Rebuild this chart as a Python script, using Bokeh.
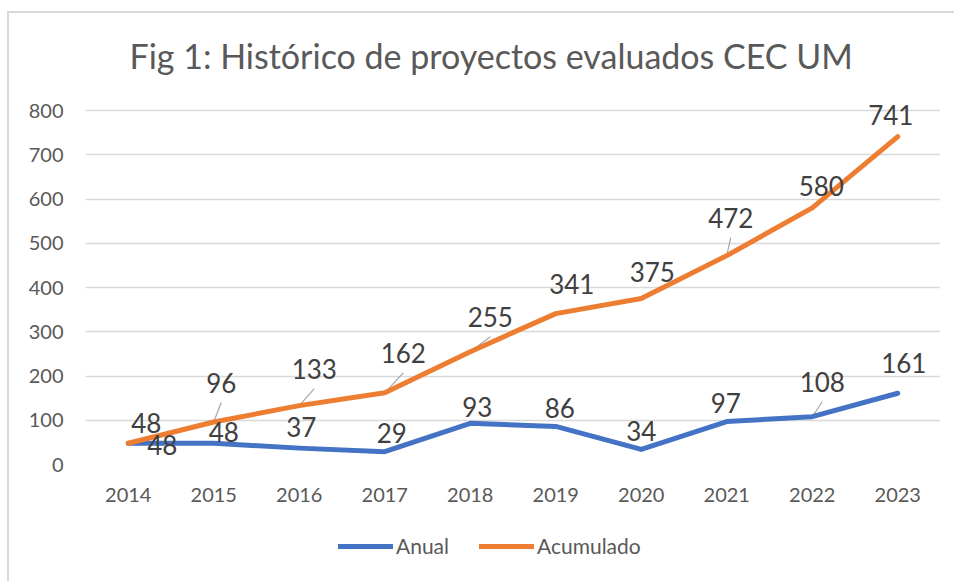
from bokeh.plotting import figure
from bokeh.layouts import column
from bokeh.models import (ColumnDataSource, Range1d, FixedTicker, LabelSet,
                          Legend, LegendItem)
from bokeh.core.properties import value
from bokeh.embed import file_html
from bokeh.resources import INLINE

# ---- data ----
years = ["2014", "2015", "2016", "2017", "2018", "2019", "2020", "2021", "2022", "2023"]
anual = [48, 48, 37, 29, 93, 86, 34, 97, 108, 161]
acumulado = [48, 96, 133, 162, 255, 341, 375, 472, 580, 741]
y_ticks = [0, 100, 200, 300, 400, 500, 600, 700, 800]
series_names = ["Anual", "Acumulado"]
title_text = "Fig 1: Histórico de proyectos evaluados CEC UM"

# ---- label placement (screen px offsets from point, y up) ----
anual_dx = [34, 10, 2, 7, 7, 4, 0, -1, 10, 6]
anual_dy = [-2, 11, 21, 19, 16, 18, 18, 19, 35, 30]
anual_leader = [0, 0, 0, 0, 0, 0, 0, 0, 1, 0]
acum_dx = [18, 7.5, 15, 18.5, 20, 16, 11, 4, 9, -7]
acum_dy = [20, 39.5, 37, 40, 35, 30, 27, 38, 22, 22]
acum_leader = [0, 1, 1, 1, 1, 0, 0, 1, 0, 0]

# page geometry
OX, OY = 9, 13                       # inner origin of the chart box (border by CSS)
W = 954 - OX
H_MAIN = 531 - OY
H_LEG = 581 - 531
FL, FR, FT0, FB = 85 - OX, 940 - OX, 110 - OY, 464 - OY   # frame for 0..800
FT = 80 - OY                                              # extended frame top
FW, FH = FR - FL, FB - FT0
px_x = FW / len(years)
px_y = FH / 800.0
ytop = 800 + (FT0 - FT) / px_y

BLUE = "#4472C4"
ORANGE = "#ED7D31"
FONT = "Lato"

xs = list(range(len(years)))
p = figure(width=W, height=H_MAIN, output_backend="svg", toolbar_location=None,
           x_range=Range1d(-0.5, len(years) - 0.5), y_range=Range1d(0, ytop),
           min_border_left=FL, min_border_right=W - FR, min_border_top=FT,
           min_border_bottom=H_MAIN - FB)
p.outline_line_color = None
p.background_fill_color = "white"
p.border_fill_color = "white"

p.title.text = title_text
p.title.align = "left"
p.title.offset = 44
p.title.text_font = FONT
p.title.text_font_size = "34px"
p.title.text_font_style = "normal"
p.title.text_color = "#595959"

# axes
p.xaxis.ticker = FixedTicker(ticks=xs)
p.xaxis.major_label_overrides = {i: y for i, y in enumerate(years)}
p.yaxis.ticker = FixedTicker(ticks=y_ticks)
for ax in (p.xaxis[0], p.yaxis[0]):
    ax.axis_line_color = None
    ax.major_tick_line_color = None
    ax.minor_tick_line_color = None
    ax.major_tick_in = 0
    ax.major_tick_out = 0
    ax.major_label_text_font = FONT
    ax.major_label_text_font_size = "20px"
    ax.major_label_text_color = "#595959"
p.yaxis.major_label_standoff = 22
p.xaxis.major_label_standoff = 23
p.xgrid.grid_line_color = None
p.ygrid.ticker = FixedTicker(ticks=y_ticks)
p.ygrid.grid_line_color = "#d9d9d9"
p.ygrid.grid_line_width = 1.5

def leaders(vals, dx, dy, flag):
    x0, y0, x1, y1 = [], [], [], []
    for i, (v, a, b, f) in enumerate(zip(vals, dx, dy, flag)):
        if f:
            x0.append(i)
            y0.append(v)
            x1.append(i + a / px_x)
            y1.append(v + (b - 20) / px_y)
    return dict(x0=x0, y0=y0, x1=x1, y1=y1)

for d in (leaders(anual, anual_dx, anual_dy, anual_leader),
          leaders(acumulado, acum_dx, acum_dy, acum_leader)):
    p.segment(x0="x0", y0="y0", x1="x1", y1="y1", source=ColumnDataSource(d),
              line_color="#a6a6a6", line_width=1.2)

p.line(xs, anual, line_color=BLUE, line_width=5, line_cap="round", line_join="round")
p.line(xs, acumulado, line_color=ORANGE, line_width=5, line_cap="round", line_join="round")

for vals, dx, dy in ((anual, anual_dx, anual_dy), (acumulado, acum_dx, acum_dy)):
    src = ColumnDataSource(dict(x=xs, y=vals, t=[str(v) for v in vals], dx=dx, dy=dy))
    p.add_layout(LabelSet(x="x", y="y", text="t", source=src, x_offset="dx", y_offset="dy",
                          text_align="center", text_baseline="middle",
                          text_font=value(FONT), text_font_size="26px", text_color="#404040"))

# ---- legend strip (its frame is aligned with the main frame by the column) ----
pl = figure(width=W, height=H_LEG, output_backend="svg", toolbar_location=None,
            x_range=Range1d(0, 1), y_range=Range1d(0, 1),
            x_axis_type=None, y_axis_type=None,
            min_border=0, min_border_left=0, min_border_right=0,
            min_border_top=0, min_border_bottom=0)
pl.outline_line_color = None
pl.background_fill_color = "white"
pl.border_fill_color = "white"
lr = [pl.line(x=[-5, -4], y=[-5, -4], line_color=c, line_width=5, line_cap="round")
      for c in (BLUE, ORANGE)]
legend = Legend(items=[LegendItem(label=n, renderers=[r]) for n, r in zip(series_names, lr)],
                orientation="horizontal", location=(338 - 85, 581 - 558),
                glyph_width=55, glyph_height=20, label_standoff=3, spacing=30,
                padding=0, margin=0, border_line_color=None, background_fill_alpha=0,
                label_text_font=FONT, label_text_font_size="21px", label_text_color="#595959")
pl.add_layout(legend, "center")

lay = column(p, pl, spacing=0,
             styles={"margin-left": "7px", "margin-top": "11px",
                     "border-left": "2px solid #d9d9d9", "border-top": "2px solid #d9d9d9"})

open("out.html", "w").write(file_html(lay, INLINE))
